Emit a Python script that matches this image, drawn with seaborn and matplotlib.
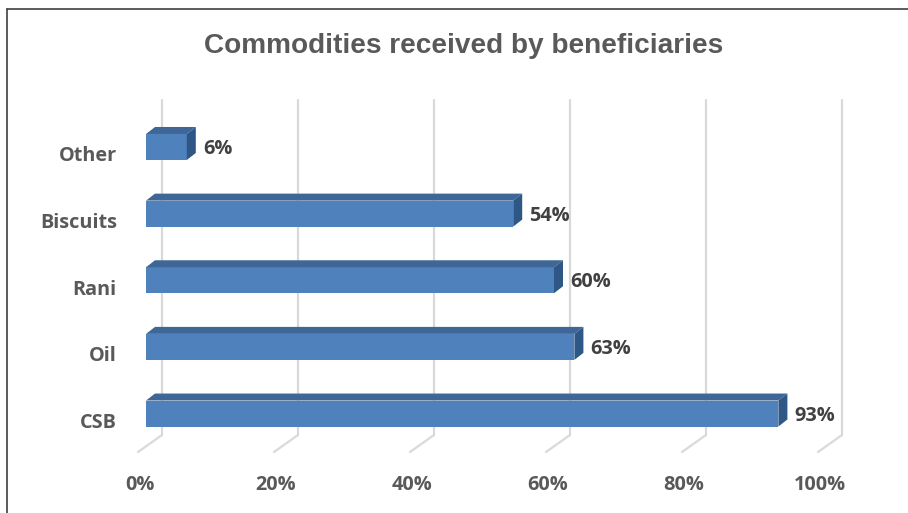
import numpy as np
import pandas as pd
import seaborn as sns
import matplotlib
matplotlib.use("Agg")
import matplotlib.pyplot as plt
from matplotlib.transforms import ScaledTranslation, blended_transform_factory
from matplotlib.patches import Polygon
from matplotlib.lines import Line2D
from matplotlib.ticker import PercentFormatter

# Data
categories = ["Other", "Biscuits", "Rani", "Oil", "CSB"]
shares = [0.06, 0.54, 0.60, 0.63, 0.93]
tick_values = [0.0, 0.2, 0.4, 0.6, 0.8, 1.0]
title = "Commodities received by beneficiaries"

# Styling
FRONT = "#4F81BD"
TOP = "#3E6797"
SIDE = "#2F5785"
GRID = "#D9D9D9"
LABEL = "#595959"
VALUE = "#404040"
LABEL_SIZE = 14.3

W, H, DPI = 908, 513, 100
sns.set_theme(style="white")
plt.rcParams["font.family"] = ["Open Sans", "DejaVu Sans"]

fig = plt.figure(figsize=(W / DPI, H / DPI), dpi=DPI)
fig.patch.set_facecolor("white")

# Axes spans the plane of the bars' front faces (pixel geometry)
ax_left, ax_right = 146, 826
ax_top, ax_bottom = 97, 463.5
ax = fig.add_axes([ax_left / W, 1 - ax_bottom / H,
                   (ax_right - ax_left) / W, (ax_bottom - ax_top) / H])
ax.set_facecolor("none")

df = pd.DataFrame({"item": categories, "share": shares})
bar_h = 0.39
sns.barplot(data=df, x="share", y="item", order=categories, orient="h",
            width=bar_h, color=FRONT, saturation=1, edgecolor="none",
            linewidth=0, ax=ax, zorder=2)

ax.set_xlim(0, 1)
ax.set_ylim(len(categories) - 0.25, -0.75)
ax.autoscale(False)


def px_to_data(dx, dy):
    """Convert a pixel offset (x right, y up) into data-unit deltas."""
    x0, y0 = ax.transData.transform((0, 0))
    x1, y1 = ax.transData.inverted().transform((x0 + dx, y0 + dy))
    return x1, y1


# Depth of each bar (pseudo-3D extrusion)
ddx, ddy = px_to_data(9, 7)
lx, ly = px_to_data(16, -2)
for i, v in enumerate(shares):
    yt, yb = i - bar_h / 2, i + bar_h / 2
    top = Polygon([(0, yt), (v, yt), (v + ddx, yt + ddy), (0 + ddx, yt + ddy)],
                  closed=True, facecolor=TOP, edgecolor="none", zorder=2)
    side = Polygon([(v, yt), (v, yb), (v + ddx, yb + ddy), (v + ddx, yt + ddy)],
                   closed=True, facecolor=SIDE, edgecolor="none", zorder=2)
    ax.add_patch(top)
    ax.add_patch(side)
    ax.text(v + lx, i + ly, f"{v:.0%}", ha="left", va="center",
            fontsize=LABEL_SIZE, fontweight="bold", color=VALUE, zorder=3)

# Back-wall gridlines and floor diagonals
blend = blended_transform_factory(ax.transData, fig.transFigure)
back_tr = blend + ScaledTranslation(16 / DPI, 0, fig.dpi_scale_trans)
floor_dx, _ = px_to_data(24, 0)
for v in tick_values:
    ax.add_line(Line2D([v, v], [1 - 100 / H, 1 - 435 / H], transform=back_tr,
                       color=GRID, lw=1.6, clip_on=False, zorder=0.5))
    ax.add_line(Line2D([v, v - floor_dx], [1 - 435 / H, 1 - 452 / H],
                       transform=back_tr, color=GRID, lw=1.6, clip_on=False,
                       zorder=0.5))

# Axis labels
ax.set_xlabel("")
ax.set_ylabel("")
ax.set_xticks(tick_values)
ax.xaxis.set_major_formatter(PercentFormatter(1.0, decimals=0))
ax.tick_params(axis="y", length=0, pad=21, labelsize=LABEL_SIZE, labelcolor=LABEL)
ax.tick_params(axis="x", length=0, pad=8, labelsize=LABEL_SIZE, labelcolor=LABEL)
for lbl in ax.get_yticklabels():
    lbl.set_fontweight("bold")
    lbl.set_transform(lbl.get_transform() +
                      ScaledTranslation(0, -7 / DPI, fig.dpi_scale_trans))
for lbl in ax.get_xticklabels():
    lbl.set_fontweight("bold")
    lbl.set_transform(lbl.get_transform() +
                      ScaledTranslation(-6 / DPI, 0, fig.dpi_scale_trans))
for s in ax.spines.values():
    s.set_visible(False)

fig.text(464 / W, 1 - 46 / H, title, ha="center", va="center", fontsize=20.2,
         fontweight="bold", color=LABEL, family=["Liberation Sans", "DejaVu Sans"])

# Chart frame edges
fig.add_artist(Line2D([7 / W, 7 / W], [0, 1 - 9 / H], transform=fig.transFigure,
                      color="#404040", lw=1.2))
fig.add_artist(Line2D([7 / W, 1], [1 - 9 / H, 1 - 9 / H], transform=fig.transFigure,
                      color="#404040", lw=1.2))

fig.savefig("out.png", dpi=DPI, facecolor="white")
